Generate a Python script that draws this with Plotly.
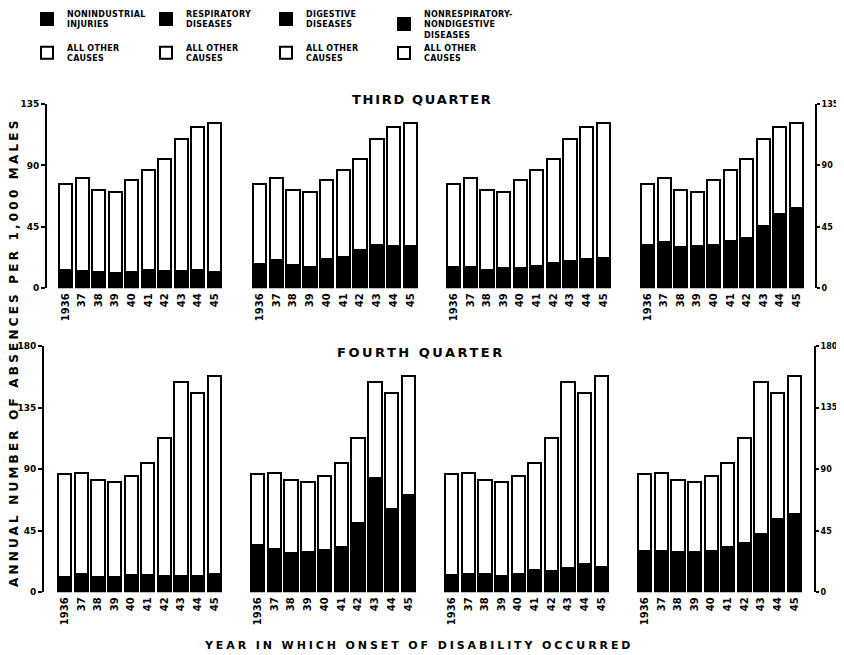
import plotly.graph_objects as go

# ---------------- data ----------------
years = ["1936", "37", "38", "39", "40", "41", "42", "43", "44", "45"]

third_total = [76.3, 80.5, 71.7, 70.7, 79.2, 86.8, 94.4, 109.1, 117.9, 121.3]
third_injuries = [13.2, 12.7, 12.0, 11.0, 12.2, 13.4, 12.7, 12.7, 13.4, 12.0]
third_respiratory = [17.6, 20.5, 16.9, 15.4, 21.5, 23.2, 28.1, 31.8, 31.1, 31.3]
third_digestive = [15.9, 15.4, 13.4, 15.2, 14.7, 16.6, 18.3, 20.1, 21.8, 22.0]
third_nonresp_nondig = [31.8, 34.0, 30.1, 30.8, 32.0, 34.5, 36.7, 45.5, 54.5, 58.7]

fourth_total = [86.5, 87.0, 82.1, 80.9, 85.3, 94.3, 112.6, 153.5, 146.0, 158.4]
fourth_injuries = [11.0, 13.2, 11.0, 11.0, 12.7, 12.7, 12.2, 11.7, 12.2, 13.2]
fourth_respiratory = [34.6, 31.4, 28.5, 29.5, 30.7, 33.4, 50.9, 83.8, 60.7, 71.4]
fourth_digestive = [12.7, 13.6, 13.6, 11.9, 13.6, 16.6, 15.8, 17.8, 20.5, 18.8]
fourth_nonresp_nondig = [30.0, 30.5, 29.2, 29.7, 30.2, 33.1, 36.3, 42.9, 53.9, 57.5]

cause_names = [
    ["NONINDUSTRIAL", "INJURIES"],
    ["RESPIRATORY", "DISEASES"],
    ["DIGESTIVE", "DISEASES"],
    ["NONRESPIRATORY-", "NONDIGESTIVE", "DISEASES"],
]
other_name = ["ALL OTHER", "CAUSES"]

third_ticks = [0, 45, 90, 135]
fourth_ticks = [0, 45, 90, 135, 180]

# ---------------- layout helpers ----------------
OFF = 8                      # page body margin
W, H = 844 - OFF, 655 - OFF  # figure size so it fits the window
FONT = "DejaVu Sans"
GAP = 0.2


def px(x):
    return (x - OFF) / W


def py(y):
    return 1 - (y - OFF) / H


def spaced(lines, sp):
    return "<br>".join(
        f"<span style='letter-spacing:{sp}px'>{t}</span>" for t in lines
    )


# pixel geometry (window pixels): (bars_left, bars_right, domain_left, domain_right)
rows = [
    dict(total=third_total,
         parts=[third_injuries, third_respiratory, third_digestive, third_nonresp_nondig],
         ticks=third_ticks, ymax=135, y0=288.3, y1=104.0,
         panels=[(58, 222, 47, 224), (252, 418, 250, 420),
                 (446, 611, 444, 613), (640, 804, 638, 815)]),
    dict(total=fourth_total,
         parts=[fourth_injuries, fourth_respiratory, fourth_digestive, fourth_nonresp_nondig],
         ticks=fourth_ticks, ymax=180, y0=592.3, y1=346.0,
         panels=[(57, 222, 44, 224), (250, 416, 248, 418),
                 (444, 609, 442, 611), (637, 802, 635, 814)]),
]

fig = go.Figure()
layout = {}
xs = list(range(len(years)))

n = 0
for r, row in enumerate(rows):
    for p, (bl, br, dl, dr) in enumerate(row["panels"]):
        n += 1
        xa = "x" if n == 1 else f"x{n}"
        ya = "y" if n == 1 else f"y{n}"
        black = row["parts"][p]
        white = [t - b for t, b in zip(row["total"], black)]
        leg = "legend" if p == 0 else f"legend{p + 1}"
        fig.add_trace(go.Bar(
            x=xs, y=black, xaxis=xa, yaxis=ya,
            marker=dict(color="black", line=dict(color="black", width=2)),
            name=spaced(cause_names[p], 0.3), legend=leg,
            legendgroup=f"b{p}", showlegend=(r == 0),
        ))
        fig.add_trace(go.Bar(
            x=xs, y=white, xaxis=xa, yaxis=ya,
            marker=dict(color="white", line=dict(color="black", width=2)),
            name=spaced(other_name, 0.3), legend=leg,
            legendgroup=f"w{p}", showlegend=(r == 0),
        ))
        slot = (br - bl - 2) / (10 - GAP)
        c0 = bl + 1 + slot * (1 - GAP) / 2
        rng = [(dl - c0) / slot, (dr - c0) / slot]
        xkey = "xaxis" if n == 1 else f"xaxis{n}"
        ykey = "yaxis" if n == 1 else f"yaxis{n}"
        layout[xkey] = dict(
            domain=[px(dl), px(dr)], range=rng, anchor=ya, automargin=False,
            tickvals=xs, ticktext=years, tickangle=-90,
            showline=False, showgrid=False, zeroline=False, ticks="",
            tickfont=dict(family=FONT, size=10, color="black", weight="bold"),
            ticklabelstandoff=2,
        )
        yd = dict(
            domain=[py(row["y0"]), py(row["y1"])],
            range=[0, row["ymax"]], anchor=xa, automargin=False,
            showgrid=False, zeroline=False,
        )
        if p == 0 or p == 3:
            yd.update(
                visible=True, showline=True, linecolor="black", linewidth=2,
                ticks="outside", ticklen=4 if p == 0 else 3, tickwidth=2,
                tickcolor="black", tickvals=row["ticks"],
                tickfont=dict(family=FONT, size=9 if p == 0 else 8,
                              color="black", weight="bold"),
                side="left" if p == 0 else "right",
                ticklabeloverflow="allow",
            )
        else:
            yd.update(visible=False)
        layout[ykey] = yd

legend_x = [43, 162, 282, 400]
legend_gap = [10, 10, 10, 0]
for p in range(4):
    key = "legend" if p == 0 else f"legend{p + 1}"
    layout[key] = dict(
        x=px(legend_x[p] - 16), y=py(2), xanchor="left", yanchor="top",
        bgcolor="rgba(0,0,0,0)", borderwidth=0, traceorder="grouped",
        tracegroupgap=legend_gap[p], valign="middle",
        font=dict(family=FONT, size=8, color="black", weight="bold"),
    )

annotations = [
    dict(text=spaced(["THIRD QUARTER"], 1.7), x=px(422), y=py(99),
         xanchor="center", yanchor="middle",
         xref="paper", yref="paper", showarrow=False,
         font=dict(family=FONT, size=13, color="black", weight="bold")),
    dict(text=spaced(["FOURTH QUARTER"], 2.5), x=px(421), y=py(352),
         xanchor="center", yanchor="middle",
         xref="paper", yref="paper", showarrow=False,
         font=dict(family=FONT, size=13, color="black", weight="bold")),
    dict(text=spaced(["ANNUAL NUMBER OF ABSENCES PER 1,000 MALES"], 3.2),
         x=px(14), y=py(352), textangle=-90, xanchor="center", yanchor="middle",
         xref="paper", yref="paper", showarrow=False,
         font=dict(family=FONT, size=12, color="black", weight="bold")),
    dict(text=spaced(["YEAR IN WHICH ONSET OF DISABILITY OCCURRED"], 2.9),
         x=px(418), y=py(645), xanchor="center", yanchor="middle",
         xref="paper", yref="paper", showarrow=False,
         font=dict(family=FONT, size=11, color="black", weight="bold")),
]

fig.update_layout(
    width=W, height=H, margin=dict(l=0, r=0, t=0, b=0, autoexpand=False),
    barmode="stack", bargap=GAP,
    plot_bgcolor="white", paper_bgcolor="white",
    annotations=annotations, **layout,
)

fig.write_html("out.html", config={"displayModeBar": False})
